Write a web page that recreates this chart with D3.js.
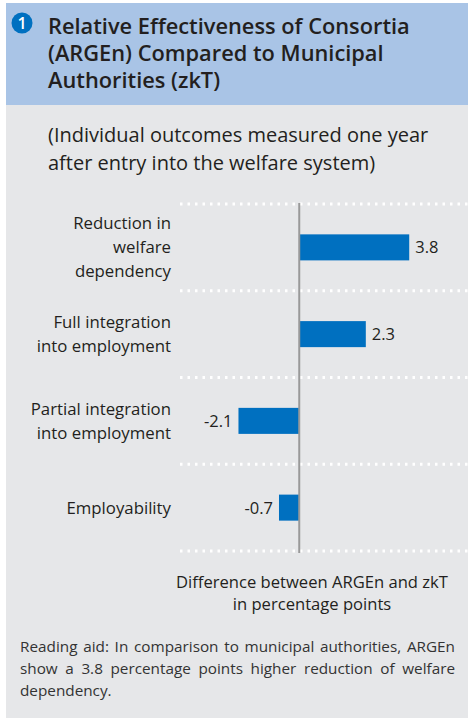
<!DOCTYPE html>
<html>
<head>
<meta charset="utf-8">
<script src="https://cdn.jsdelivr.net/npm/d3@7"></script>
<style>
  body { margin: 0; background: #fff; }
  text { font-family: "Open Sans", sans-serif; }
</style>
</head>
<body>
<div id="chart"></div>
<script>
const w = 470;
const h = 723;

// data
const categories = [
  ["Reduction in", "welfare", "dependency"],
  ["Full integration", "into employment"],
  ["Partial integration", "into employment"],
  ["Employability"]
];
const values = [3.8, 2.3, -2.1, -0.7];
const valueLabels = ["3.8", "2.3", "-2.1", "-0.7"];
const titleLines = ["Relative Effectiveness of Consortia", "(ARGEn) Compared to Municipal", "Authorities (zkT)"];
const subtitleLines = ["(Individual outcomes measured one year", "after entry into the welfare system)"];
const axisTitle = ["Difference between ARGEn and zkT", "in percentage points"];
const noteLines = [
  "Reading aid: In comparison to municipal authorities, ARGEn",
  "show a 3.8 percentage points higher reduction of welfare",
  "dependency."
];

const svg = d3.select("#chart")
  .append("svg")
    .attr("width", w)
    .attr("height", h);

// panel
svg.append("rect").attr("x", 6).attr("y", 3).attr("width", 462).attr("height", 715).attr("fill", "#e6e7e9");
svg.append("rect").attr("x", 6).attr("y", 3).attr("width", 462).attr("height", 102).attr("fill", "#a9c4e6");

// badge + title
svg.append("circle").attr("cx", 22).attr("cy", 23).attr("r", 10.5).attr("fill", "#0070c0");
svg.append("text").attr("x", 22).attr("y", 29).attr("text-anchor", "middle")
  .attr("fill", "#fff").attr("font-size", 16).attr("font-weight", 600).text("1");
svg.append("g").selectAll("text")
  .data(titleLines).enter().append("text")
    .attr("x", 48)
    .attr("y", (d, i) => 34 + i * 27)
    .attr("font-size", 21.8)
    .attr("font-weight", 600)
    .attr("fill", "#231f20")
    .text(d => d);

svg.append("g").selectAll("text")
  .data(subtitleLines).enter().append("text")
    .attr("x", 48)
    .attr("y", (d, i) => 142 + i * 28)
    .attr("font-size", 20)
    .attr("fill", "#231f20")
    .text(d => d);

// scales
const x = d3.scaleLinear().domain([-2.6, 5.9]).range([224, 470]);
const y = d3.scaleBand().domain(d3.range(values.length)).range([204, 551]).paddingInner(0.7).paddingOuter(0.35);

// dotted separators
const seps = d3.range(values.length + 1).map(i => 204 + i * (551 - 204) / values.length);
svg.append("g").selectAll("line")
  .data(seps).enter().append("line")
    .attr("x1", 180).attr("x2", 470)
    .attr("y1", d => d).attr("y2", d => d)
    .attr("stroke", "#fff")
    .attr("stroke-width", 3)
    .attr("stroke-dasharray", "2.5,5");

// bars
svg.append("g").selectAll("rect")
  .data(values).enter().append("rect")
    .attr("x", d => x(Math.min(0, d)))
    .attr("y", (d, i) => y(i))
    .attr("width", d => Math.abs(x(d) - x(0)))
    .attr("height", y.bandwidth())
    .attr("fill", "#0070c0");

// zero line
svg.append("line")
  .attr("x1", x(0)).attr("x2", x(0))
  .attr("y1", 203).attr("y2", 553)
  .attr("stroke", "#999").attr("stroke-width", 2);

// value labels
svg.append("g").selectAll("text")
  .data(values).enter().append("text")
    .attr("x", d => d >= 0 ? x(d) + 6 : x(d) - 6)
    .attr("y", (d, i) => y(i) + y.bandwidth() / 2 + 6)
    .attr("text-anchor", d => d >= 0 ? "start" : "end")
    .attr("font-size", 16.5)
    .attr("fill", "#231f20")
    .text((d, i) => valueLabels[i]);

// category labels
const lh = 24;
svg.append("g").selectAll("text")
  .data(categories).enter().append("text")
    .attr("text-anchor", "end")
    .attr("font-size", 16.8)
    .attr("fill", "#231f20")
    .attr("y", (d, i) => y(i) + y.bandwidth() / 2 + 6 - (d.length - 1) * lh / 2)
    .each(function(d) {
      const t = d3.select(this);
      const y0 = +t.attr("y");
      d.forEach((s, j) => t.append("tspan").attr("x", 171).attr("y", y0 + j * lh).text(s));
    });

// axis title
svg.append("g").selectAll("text")
  .data(axisTitle).enter().append("text")
    .attr("x", 312)
    .attr("y", (d, i) => 588 + i * 22)
    .attr("text-anchor", "middle")
    .attr("font-size", 16.6)
    .attr("fill", "#231f20")
    .text(d => d);

// reading aid, justified
const noteX0 = 20, noteX1 = 455;
noteLines.forEach((line, i) => {
  const words = line.split(" ");
  const g = svg.append("g");
  const ts = words.map(wd => g.append("text")
    .attr("y", 652 + i * 22)
    .attr("font-size", 15.3)
    .attr("fill", "#333")
    .text(wd));
  const widths = ts.map(t => t.node().getComputedTextLength());
  const last = i === noteLines.length - 1;
  const gap = last || words.length < 2 ? 4 : (noteX1 - noteX0 - d3.sum(widths)) / (words.length - 1);
  let cx = noteX0;
  ts.forEach((t, k) => { t.attr("x", cx); cx += widths[k] + gap; });
});
</script>
</body>
</html>
